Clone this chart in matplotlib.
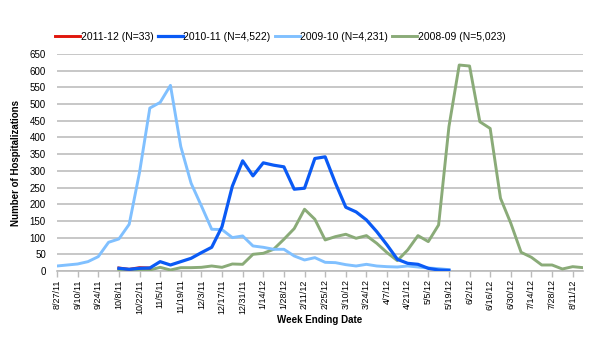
import matplotlib
matplotlib.use("Agg")
import matplotlib.pyplot as plt
import pandas as pd

# weekly categories (week ending date), 8/27/11 .. 8/18/12
weeks = pd.date_range("2011-08-27", periods=52, freq="7D")
week_labels = [f"{d.month}/{d.day}/{d.year % 100}" for d in weeks]

# each season: first week label where the line starts, then weekly counts
s1112_label = "2011-12 (N=33)"
s1112_start = "10/8/11"
s1112 = [9, 5, 10, 9]

s1011_label = "2010-11 (N=4,522)"
s1011_start = "10/8/11"
s1011 = [8, 5, 8, 9, 28, 18, 28, 38, 55, 71, 133, 254, 330, 285, 324, 317, 312,
         245, 248, 337, 342, 263, 191, 177, 153, 118, 78, 35, 23, 20, 8, 3, 2]

s0910_label = "2009-10 (N=4,231)"
s0910_start = "8/27/11"
s0910 = [15, 18, 21, 28, 43, 86, 96, 140, 295, 488, 505, 556, 373, 263, 195, 125,
         124, 100, 105, 75, 71, 65, 65, 45, 33, 40, 26, 25, 19, 15, 20, 15, 13, 12,
         15, 12, 9, 7, 4]

s0809_label = "2008-09 (N=5,023)"
s0809_start = "10/8/11"
s0809 = [3, 3, 3, 3, 11, 3, 10, 10, 11, 15, 11, 21, 20, 50, 53, 65, 95, 127, 185,
         155, 93, 103, 110, 98, 106, 83, 55, 31, 63, 106, 88, 138, 432, 617, 614,
         447, 427, 218, 143, 56, 41, 18, 18, 6, 13, 10]

plt.rcParams['font.family'] = ['Liberation Sans', 'DejaVu Sans']

fig = plt.figure(figsize=(6, 3.5), dpi=100)
ax = fig.add_axes([57 / 600, 1 - 271 / 350, 526 / 600, 217 / 350])


def xs(start, vals):
    i0 = week_labels.index(start)
    return list(range(i0, i0 + len(vals)))


ax.plot(xs(s0809_start, s0809), s0809, color="#8aab78", lw=2.1, label=s0809_label, zorder=3)
ax.plot(xs(s0910_start, s0910), s0910, color="#80c0ff", lw=2.1, label=s0910_label, zorder=4)
ax.plot(xs(s1112_start, s1112), s1112, color="#e0160c", lw=2.1, label=s1112_label, zorder=5)
ax.plot(xs(s1011_start, s1011), s1011, color="#0a5af5", lw=2.3, label=s1011_label, zorder=6)

ax.set_xlim(0, len(weeks) - 1)
ax.set_ylim(0, 650)
ax.set_yticks(range(0, 651, 50))
ax.set_xticks(range(0, len(weeks), 2))
ax.set_xticklabels(week_labels[::2], rotation=90, fontsize=6.5)
ax.tick_params(axis="y", length=0, labelsize=7, pad=8)
ax.tick_params(axis="x", length=4, color="#bbbbbb", width=1, pad=2)

ax.grid(axis="y", color="#bdbdbd", lw=1.2)
ax.set_axisbelow(True)
for side in ["left", "right", "top"]:
    ax.spines[side].set_visible(False)
ax.spines["bottom"].set_color("#bbbbbb")
ax.spines["bottom"].set_linewidth(1.2)

ax.set_ylabel("Number of Hospitalizations", fontsize=7, fontweight="bold", labelpad=6)
ax.set_xlabel("Week Ending Date", fontsize=7, fontweight="bold", labelpad=1)

h, l = ax.get_legend_handles_labels()
order = [2, 3, 1, 0]
fig.legend([h[k] for k in order], [l[k] for k in order], loc="center left",
           bbox_to_anchor=(48 / 600, 1 - 37 / 350), ncol=4, frameon=False,
           fontsize=7.5, handlelength=2.4, handletextpad=0.05, columnspacing=0.4,
           borderpad=0.2)

fig.savefig("out.png", dpi=100)
